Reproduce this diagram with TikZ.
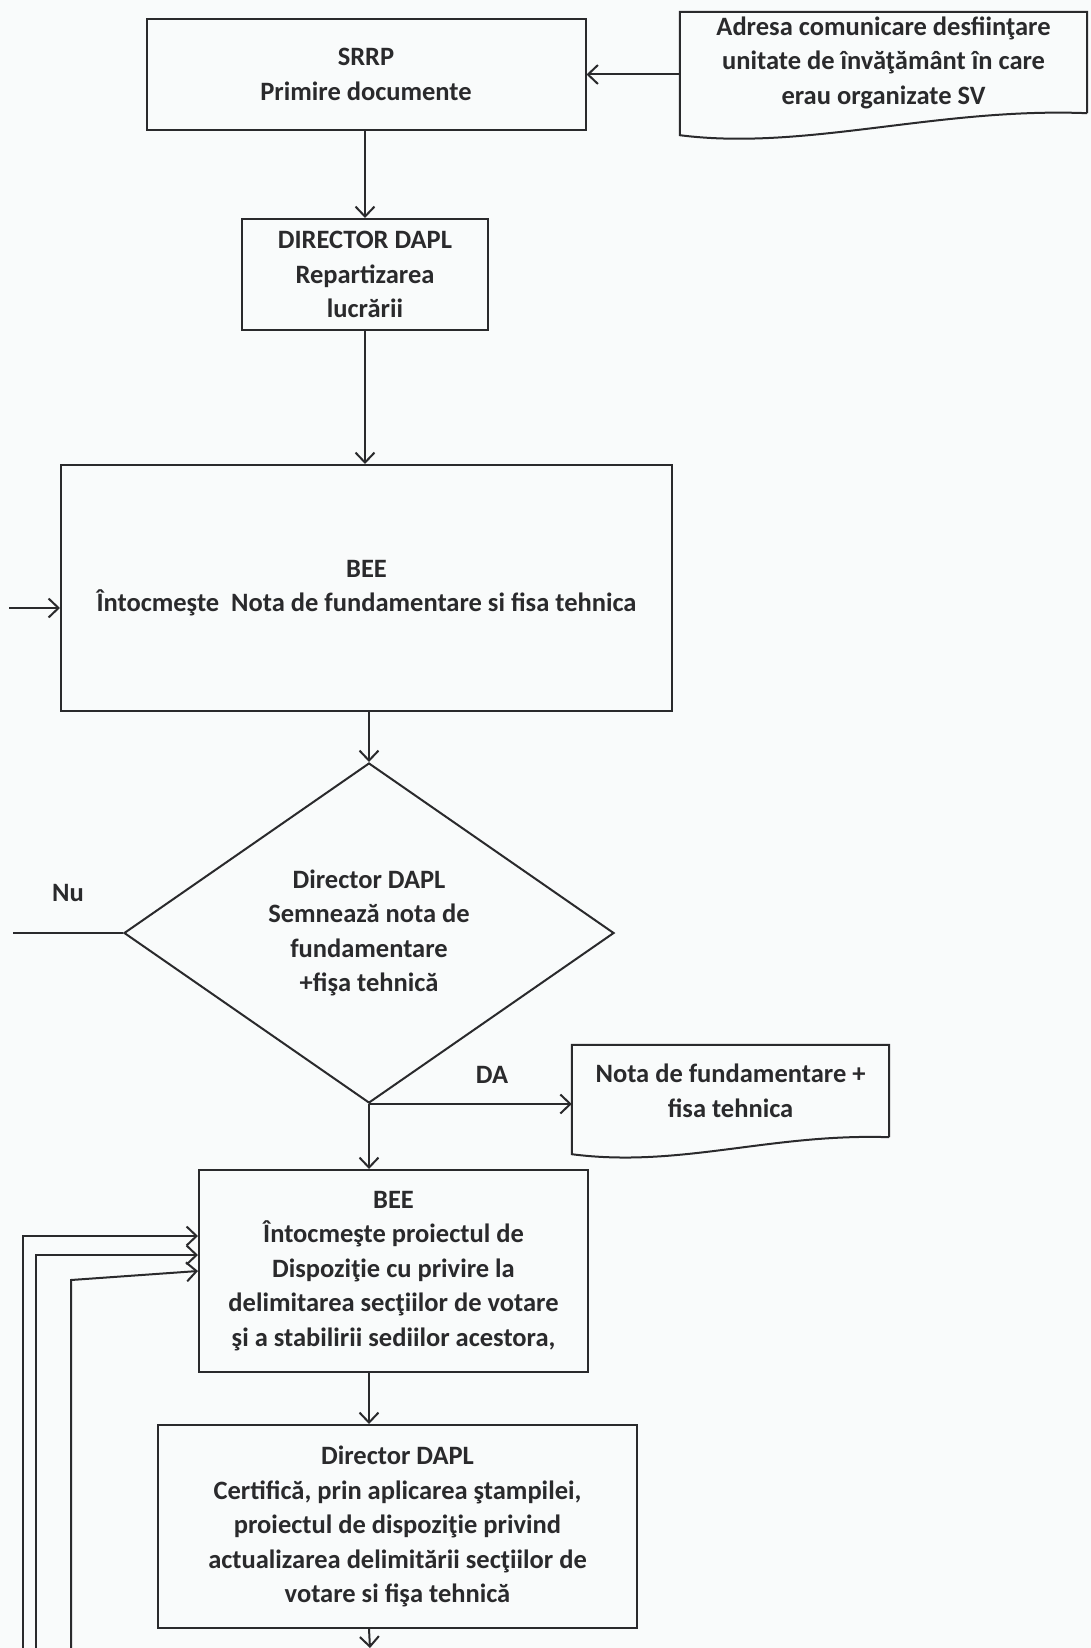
\documentclass[tikz,border=0pt]{standalone}
\usepackage{fontspec}
\setmainfont{Carlito}
\usetikzlibrary{shapes.geometric,arrows.meta,calc}
\definecolor{ink}{HTML}{2A2A2C}
\definecolor{paper}{HTML}{F9FBFB}

\begin{document}
\begin{tikzpicture}[x=1pt,y=-1pt,
  every node/.style={font=\fontsize{26.5}{34.5}\selectfont\bfseries, text=ink, align=center},
  box/.style={draw=ink, line width=2pt, rectangle, inner sep=0pt},
  doc/.style={rectangle, inner sep=0pt},
  decision/.style={draw=ink, line width=2pt, diamond, inner sep=0pt, aspect=1.44},
  flow/.style={draw=ink, line width=2pt, -{Straight Barb[length=10pt,width=19pt,line width=2pt]}},
  plain/.style={draw=ink, line width=2pt}
]
% page
\fill[paper] (0,0) rectangle (1091,1648);
\useasboundingbox (0,0) rectangle (1091,1648);

% process steps
\node[box, minimum width=439pt, minimum height=111pt] (srrp) at (366,74.5)
  {SRRP\\Primire documente};
\node[box, minimum width=246pt, minimum height=111pt] (dir1) at (365,274.5)
  {DIRECTOR DAPL\\Repartizarea\\lucrării};
\node[box, minimum width=611pt, minimum height=246pt] (bee1) at (366.5,588)
  {BEE\\Întocmeşte~ Nota de fundamentare si fisa tehnica};
\node[decision, minimum width=490pt, minimum height=340pt] (dec) at (369,933)
  {Director DAPL\\Semnează nota de\\fundamentare\\+fişa tehnică};
\node[box, minimum width=389pt, minimum height=202pt] (bee2) at (393.5,1271)
  {BEE\\Întocmeşte proiectul de\\Dispoziţie cu privire la\\delimitarea secţiilor de votare\\şi a stabilirii sediilor acestora,};
\node[box, minimum width=479pt, minimum height=203pt] (cert) at (397.5,1526.5)
  {Director DAPL\\Certifică, prin aplicarea ştampilei,\\proiectul de dispoziţie privind\\actualizarea delimitării secţiilor de\\votare si fişa tehnică};

% documents (wavy bottom edge)
\node[doc, minimum width=407pt, minimum height=101pt] (adresa) at (883.5,62.5)
  {Adresa comunicare desfiinţare\\unitate de învăţământ în care\\erau organizate SV};
\draw[plain] (adresa.south east) -- (adresa.north east) -- (adresa.north west)
  -- ($(adresa.south west)+(0,22)$)
  .. controls ($(adresa.south west)+(125,38)$) and ($(adresa.south east)+(-150,-6)$)
  .. (adresa.south east);

\node[doc, minimum width=317pt, minimum height=92pt] (nota) at (730.5,1091)
  {Nota de fundamentare +\\fisa tehnica};
\draw[plain] (nota.south east) -- (nota.north east) -- (nota.north west)
  -- ($(nota.south west)+(0,17)$)
  .. controls ($(nota.south west)+(108,31)$) and ($(nota.south east)+(-119,-4)$)
  .. (nota.south east);

% branch labels
\node (nu) at (68,893) {Nu};
\node (da) at (492,1075) {DA};

% loose ends
\coordinate (in1) at (9,608);
\coordinate (nuend) at (13,933);
\coordinate (out) at (370,1648);
\coordinate (fb1) at (23,1648);
\coordinate (fb2) at (36,1648);
\coordinate (fb3) at (71,1648);

% connectors
\draw[flow] (adresa.west |- srrp.east) -- (srrp.east);
\draw[flow] (srrp.south -| dir1.north) -- (dir1.north);
\draw[flow] (dir1.south) -- (dir1.south |- bee1.north);
\draw[flow] (in1) -- (in1 -| bee1.west);
\draw[flow] (bee1.south -| dec.north) -- (dec.north);
\draw[plain] (nuend) -- (dec.west);
\draw[flow] (dec.south) -- (dec.south -| nota.west);
\draw[flow] (dec.south) -- (dec.south |- bee2.north);
\draw[flow] (dec.south |- bee2.south) -- (dec.south |- cert.north);
\draw[flow] (dec.south |- cert.south) -- (out);

% return paths into the second BEE step
\draw[flow] (fb1) -- ($(fb1 |- bee2.west)+(0,-35)$) -- ($(bee2.west)+(0,-35)$);
\draw[flow] (fb2) -- ($(fb2 |- bee2.west)+(0,-16)$) -- ($(bee2.west)+(0,-16)$);
\draw[flow] (fb3) -- ($(fb3 |- bee2.west)+(0,9)$) -- (bee2.west);
\end{tikzpicture}
\end{document}
